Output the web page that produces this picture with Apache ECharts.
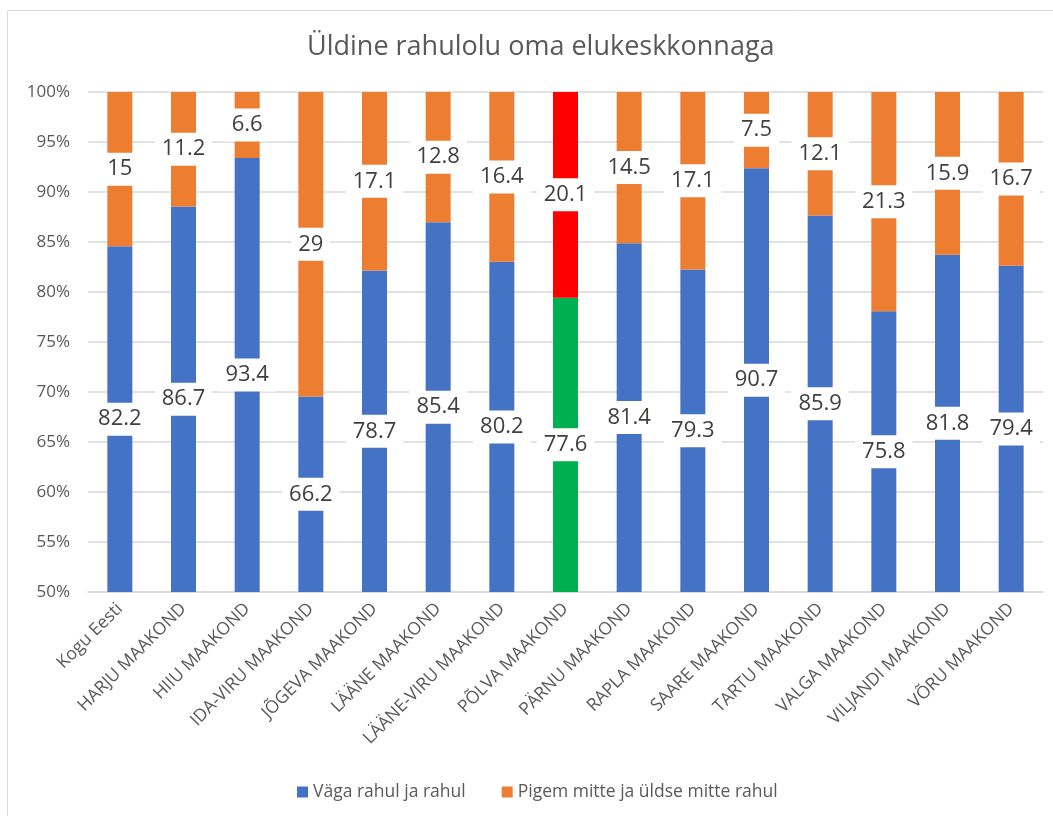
<!DOCTYPE html>
<html>
<head>
<meta charset="utf-8">
<script src="https://cdn.jsdelivr.net/npm/echarts@6/dist/echarts.min.js"></script>
<style>html,body{margin:0;padding:0;background:#fff}#c{width:1053px;height:816px}</style>
</head>
<body>
<div id="c"></div>
<script>
const categories = ['Kogu Eesti','HARJU MAAKOND','HIIU MAAKOND','IDA-VIRU MAAKOND','JÕGEVA MAAKOND','LÄÄNE MAAKOND','LÄÄNE-VIRU MAAKOND','PÕLVA MAAKOND','PÄRNU MAAKOND','RAPLA MAAKOND','SAARE MAAKOND','TARTU MAAKOND','VALGA MAAKOND','VILJANDI MAAKOND','VÕRU MAAKOND'];
const satisfied = [82.2,86.7,93.4,66.2,78.7,85.4,80.2,77.6,81.4,79.3,90.7,85.9,75.8,81.8,79.4];
const notSatisfied = [15,11.2,6.6,29,17.1,12.8,16.4,20.1,14.5,17.1,7.5,12.1,21.3,15.9,16.7];
const seriesNames = ['Väga rahul ja rahul','Pigem mitte ja üldse mitte rahul'];
const highlightIndex = 7;

const FONT = 'Open Sans';
const blue = '#4472C4', orange = '#ED7D31', green = '#00B050', red = '#FF0000';

function share(i, v) { return v / (satisfied[i] + notSatisfied[i]) * 100; }

function build(values, hi) {
  return values.map((v, i) => {
    const d = { value: share(i, v), raw: v };
    if (i === highlightIndex) d.itemStyle = { color: hi };
    return d;
  });
}

const labelStyle = {
  show: true,
  position: 'inside',
  formatter: p => String(p.data.raw),
  fontFamily: FONT,
  fontSize: 22,
  color: '#404040',
  backgroundColor: '#ffffff',
  padding: [6, 7, 5, 7]
};

const chart = echarts.init(document.getElementById('c'), null, { renderer: 'canvas' });
chart.setOption({
  animation: false,
  textStyle: { fontFamily: FONT },
  title: {
    text: 'Üldine rahulolu oma elukeskkonnaga',
    left: 302,
    top: 29,
    textStyle: { fontFamily: FONT, fontSize: 27, fontWeight: 'normal', color: '#595959' }
  },
  graphic: [{
    type: 'rect', shape: { x: 7.5, y: 10.5, width: 1200, height: 1000 },
    style: { fill: 'none', stroke: '#d9d9d9', lineWidth: 1 }, silent: true, z: -1
  }],
  legend: {
    bottom: 10,
    left: 292,
    itemWidth: 11, itemHeight: 11, itemGap: 36,
    icon: 'rect',
    textStyle: { fontFamily: FONT, fontSize: 17.5, color: '#595959' },
    data: seriesNames
  },
  grid: { left: 88, right: 10, top: 92, bottom: 224, containLabel: false },
  xAxis: {
    type: 'category',
    data: categories,
    axisLine: { lineStyle: { color: '#d9d9d9', width: 1.5 } },
    axisTick: { show: false },
    axisLabel: { rotate: 45, fontFamily: FONT, fontSize: 17.5, color: '#595959', margin: 14, interval: 0 }
  },
  yAxis: {
    type: 'value',
    min: 50, max: 100, interval: 5,
    axisLine: { show: false },
    axisTick: { show: false },
    axisLabel: { formatter: '{value}%', fontFamily: FONT, fontSize: 17, color: '#595959', margin: 18 },
    splitLine: { lineStyle: { color: '#d9d9d9', width: 1.5 } }
  },
  series: [
    {
      name: seriesNames[0], type: 'bar', stack: 's', barWidth: 25,
      itemStyle: { color: blue },
      label: labelStyle,
      data: build(satisfied, green)
    },
    {
      name: seriesNames[1], type: 'bar', stack: 's', barWidth: 25,
      itemStyle: { color: orange },
      label: labelStyle,
      data: build(notSatisfied, red)
    }
  ]
});
</script>
</body>
</html>
